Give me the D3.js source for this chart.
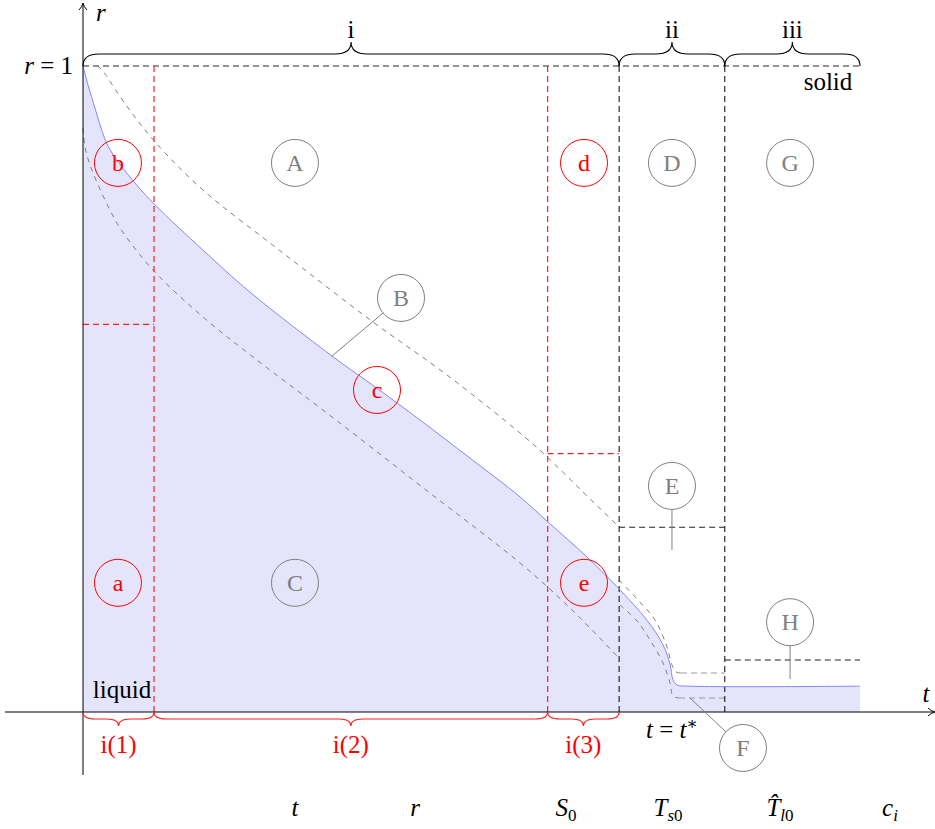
<!DOCTYPE html>
<html>
<head>
<meta charset="utf-8">
<script src="https://cdn.jsdelivr.net/npm/d3@7"></script>
<style>
  html, body { margin: 0; padding: 0; background: #fff; }
  svg text { font-family: "Liberation Serif", "DejaVu Serif", serif; }
</style>
</head>
<body>
<svg id="chart" width="935" height="829"></svg>
<script>
// Solidification front r(t) and its bounding estimates
const frontT = [0, 0.0064, 0.0154, 0.0232, 0.0322, 0.0476, 0.0682, 0.0927, 0.1544, 0.2149, 0.3205, 0.3797, 0.4337, 0.4981, 0.5624, 0.5985, 0.6486, 0.6911, 0.7259, 0.7465, 0.7555, 0.7593, 0.7645, 0.7812, 1.0];
const frontR = [1, 0.9706, 0.935, 0.904, 0.876, 0.848, 0.817, 0.785, 0.715, 0.650, 0.551, 0.500, 0.452, 0.393, 0.333, 0.294, 0.240, 0.189, 0.142, 0.104, 0.074, 0.050, 0.042, 0.040, 0.040];

// Upper bound (two pieces)
const upperAT = [0.018, 0.0232, 0.0553, 0.094, 0.1544, 0.2407, 0.269, 0.3732, 0.4685, 0.5624, 0.592, 0.6396, 0.6898];
const upperAR = [1.0, 0.9954, 0.9396, 0.8808, 0.808, 0.726, 0.6997, 0.6037, 0.5217, 0.4319, 0.4009, 0.3452, 0.2864];
const upperBT = [0.6898, 0.713, 0.7362, 0.7516, 0.758, 0.7632, 0.7696, 0.8263];
const upperBR = [0.2043, 0.1749, 0.1424, 0.1006, 0.0728, 0.0619, 0.0604, 0.0604];

// Lower bound (two pieces)
const lowerAT = [0, 0.0026, 0.0077, 0.0167, 0.0347, 0.0476, 0.0901, 0.1544, 0.2188, 0.3205, 0.4414, 0.5624, 0.6268, 0.6885];
const lowerAR = [0.904, 0.8746, 0.8514, 0.8235, 0.7771, 0.7492, 0.6842, 0.6115, 0.5495, 0.4567, 0.3437, 0.2307, 0.161, 0.0851];
const lowerBT = [0.6911, 0.713, 0.7297, 0.7465, 0.7555, 0.7593, 0.7671, 0.8263];
const lowerBR = [0.1656, 0.1409, 0.1115, 0.0759, 0.0449, 0.0248, 0.0217, 0.0217];

// Stages and sub-stages along t
const stageEdges = [0, 0.690, 0.826, 1.0];
const stageLabels = ["i", "ii", "iii"];
const subStageEdges = [0, 0.0914, 0.598, 0.690];
const subStageLabels = ["i(1)", "i(2)", "i(3)"];

// Step levels drawn within stages: [t0, t1, r]
const redStepT0 = [0, 0.598];
const redStepT1 = [0.0914, 0.690];
const redStepR = [0.600, 0.400];
const blackStepT0 = [0.690, 0.826];
const blackStepT1 = [0.826, 1.0];
const blackStepR = [0.286, 0.0805];

// Labelled regions
const redNames = ["b", "c", "d", "a", "e"];
const redT = [0.045, 0.3784, 0.6448, 0.045, 0.6448];
const redR = [0.85, 0.4985, 0.85, 0.20, 0.20];
const grayNames = ["A", "B", "C", "D", "E", "F", "G", "H"];
const grayT = [0.2728, 0.4093, 0.2728, 0.758, 0.758, 0.8494, 0.910, 0.910];
const grayR = [0.85, 0.641, 0.20, 0.85, 0.35, -0.0557, 0.85, 0.139];
// Leader lines: circle name -> point it refers to
const leaderNames = ["B", "E", "H", "F"];
const leaderT = [0.3205, 0.758, 0.910, 0.7812];
const leaderR = [0.5511, 0.2508, 0.051, 0.0217];

// Parameter labels along the bottom
const footBase = ["t", "r", "S", "T", "T\u0302", "c"];
const footSub = ["", "", "0", "s0", "l0", "i"];
const footT = [0.2728, 0.4273, 0.6216, 0.7529, 0.897, 1.0386];

const svg = d3.select("#chart");
const x = d3.scaleLinear().domain([0, 1]).range([83, 860]);
const y = d3.scaleLinear().domain([0, 1]).range([712, 66]);

const zip = (ts, rs) => ts.map((t, i) => [t, rs[i]]);
const front = zip(frontT, frontR);

const GRAY = "#808080";
const FS = 25;
const smooth = d3.curveCatmullRom.alpha(0.5);

// Liquid region under the front
svg.append("path")
  .datum(front)
  .attr("d", d3.area().x(d => x(d[0])).y0(y(0)).y1(d => y(d[1])).curve(smooth))
  .attr("fill", "#e4e4fb");

// r = 1 level
svg.append("line")
  .attr("x1", x(0)).attr("x2", x(1)).attr("y1", y(1)).attr("y2", y(1))
  .attr("stroke", "#707070").attr("stroke-width", 1.3).attr("stroke-dasharray", "6,4");

// Bounding curves
const line = d3.line().x(d => x(d[0])).y(d => y(d[1])).curve(smooth);
[[upperAT, upperAR], [upperBT.slice(0, 7), upperBR.slice(0, 7)], [lowerAT, lowerAR], [lowerBT.slice(0, 7), lowerBR.slice(0, 7)]]
  .forEach(([ts, rs]) => {
    svg.append("path").datum(zip(ts, rs)).attr("d", line)
      .attr("fill", "none").attr("stroke", GRAY).attr("stroke-width", 1).attr("stroke-dasharray", "5,5");
  });
// flat tails of the bounds
[[upperBT, upperBR], [lowerBT, lowerBR]].forEach(([ts, rs]) => {
  const n = ts.length;
  svg.append("line")
    .attr("x1", x(ts[n - 2])).attr("x2", x(ts[n - 1]))
    .attr("y1", y(rs[n - 2])).attr("y2", y(rs[n - 1]))
    .attr("stroke", "#9a9a9a").attr("stroke-width", 1.2).attr("stroke-dasharray", "6,4");
});

// Sub-stage boundaries (red) and stage boundaries (black)
subStageEdges.slice(1, 3).forEach(t => {
  svg.append("line").attr("x1", x(t)).attr("x2", x(t)).attr("y1", y(1)).attr("y2", y(0))
    .attr("stroke", "#ff2020").attr("stroke-width", 1.2).attr("stroke-dasharray", "6,4");
});
stageEdges.slice(1, 3).forEach(t => {
  svg.append("line").attr("x1", x(t)).attr("x2", x(t)).attr("y1", y(1)).attr("y2", y(0))
    .attr("stroke", "#000").attr("stroke-width", 1).attr("stroke-dasharray", "6,4");
});
redStepR.forEach((r, i) => {
  svg.append("line").attr("x1", x(redStepT0[i])).attr("x2", x(redStepT1[i])).attr("y1", y(r)).attr("y2", y(r))
    .attr("stroke", "#ff2020").attr("stroke-width", 1.2).attr("stroke-dasharray", "6,4");
});
blackStepR.forEach((r, i) => {
  svg.append("line").attr("x1", x(blackStepT0[i])).attr("x2", x(blackStepT1[i])).attr("y1", y(r)).attr("y2", y(r))
    .attr("stroke", "#222").attr("stroke-width", 1.1).attr("stroke-dasharray", "6,4");
});

// Front line
svg.append("path").datum(front).attr("d", line)
  .attr("fill", "none").attr("stroke", "#8585ff").attr("stroke-width", 1);

// Axes
svg.append("line").attr("x1", x(0)).attr("x2", x(0)).attr("y1", 775).attr("y2", 4)
  .attr("stroke", "#000").attr("stroke-width", 1);
svg.append("line").attr("x1", 5).attr("x2", 934).attr("y1", y(0)).attr("y2", y(0))
  .attr("stroke", "#000").attr("stroke-width", 1);
svg.append("path").attr("d", `M${x(0) - 4},${10} Q${x(0) - 1},${7} ${x(0)},${3} Q${x(0) + 1},${7} ${x(0) + 4},${10}`)
  .attr("fill", "none").attr("stroke", "#000").attr("stroke-width", 1);
svg.append("path").attr("d", `M${928},${y(0) - 4} Q${931},${y(0) - 1} ${935},${y(0)} Q${931},${y(0) + 1} ${928},${y(0) + 4}`)
  .attr("fill", "none").attr("stroke", "#000").attr("stroke-width", 1);

// Braces
function brace(x0, x1, yb, amp, dir, q) {
  const xm = (x0 + x1) / 2, h = yb + dir * amp / 2, tip = yb + dir * amp;
  return `M${x0},${yb} Q${x0},${h} ${x0 + q},${h} L${xm - q},${h} Q${xm},${h} ${xm},${tip} ` +
         `Q${xm},${h} ${xm + q},${h} L${x1 - q},${h} Q${x1},${h} ${x1},${yb}`;
}
stageLabels.forEach((lab, i) => {
  const x0 = x(stageEdges[i]), x1 = x(stageEdges[i + 1]);
  svg.append("path").attr("d", brace(x0, x1, y(1), 24, -1, 16))
    .attr("fill", "none").attr("stroke", "#000").attr("stroke-width", 1.1);
  svg.append("text").attr("x", (x0 + x1) / 2).attr("y", y(1) - 28).attr("text-anchor", "middle")
    .attr("font-size", FS).attr("fill", "#000").text(lab);
});
subStageLabels.forEach((lab, i) => {
  const x0 = x(subStageEdges[i]), x1 = x(subStageEdges[i + 1]);
  svg.append("path").attr("d", brace(x0, x1, y(0), 14, 1, 12))
    .attr("fill", "none").attr("stroke", "#ff2020").attr("stroke-width", 1.1);
  svg.append("text").attr("x", (x0 + x1) / 2).attr("y", y(0) + 41).attr("text-anchor", "middle")
    .attr("font-size", FS).attr("fill", "#ff0000").text(lab);
});

// Leader lines
leaderNames.forEach((nm, i) => {
  const k = grayNames.indexOf(nm);
  const cx = x(grayT[k]), cy = y(grayR[k]);
  const tx = x(leaderT[i]), ty = y(leaderR[i]);
  const dx = tx - cx, dy = ty - cy, L = Math.hypot(dx, dy);
  svg.append("line").attr("x1", cx + dx / L * 23.5).attr("y1", cy + dy / L * 23.5)
    .attr("x2", tx).attr("y2", ty).attr("stroke", GRAY).attr("stroke-width", 1);
});

// Region markers
function markers(names, ts, rs, color) {
  const g = svg.append("g").selectAll("g").data(names).join("g")
    .attr("transform", (d, i) => `translate(${x(ts[i])},${y(rs[i])})`);
  g.append("circle").attr("r", 23.5).attr("fill", "none").attr("stroke", color).attr("stroke-width", 1);
  g.append("text").attr("text-anchor", "middle").attr("dy", "0.34em")
    .attr("font-size", 24).attr("fill", color).text(d => d);
}
markers(grayNames, grayT, grayR, GRAY);
markers(redNames, redT, redR, "#ff0000");

// Text annotations
const it = "italic";
svg.append("text").attr("x", x(0) + 13).attr("y", 21).attr("font-size", FS).attr("font-style", it).text("r");
svg.append("text").attr("x", 926).attr("y", 702).attr("text-anchor", "middle").attr("font-size", FS).attr("font-style", it).text("t");
const r1 = svg.append("text").attr("x", x(0) - 10).attr("y", y(1) + 8).attr("text-anchor", "end").attr("font-size", FS);
r1.append("tspan").attr("font-style", it).text("r");
r1.append("tspan").text(" = 1");
svg.append("text").attr("x", x(0.0502)).attr("y", y(0) - 14).attr("text-anchor", "middle").attr("font-size", FS).text("liquid");
svg.append("text").attr("x", x(0.9588)).attr("y", y(1) + 24).attr("text-anchor", "middle").attr("font-size", FS).text("solid");
const ts = svg.append("text").attr("x", x(0.758)).attr("y", y(0) + 26).attr("text-anchor", "middle").attr("font-size", FS);
ts.append("tspan").attr("font-style", it).text("t");
ts.append("tspan").text(" = ");
ts.append("tspan").attr("font-style", it).text("t");
ts.append("tspan").attr("font-size", 17).attr("dy", -9).text("\u2217");

footBase.forEach((b, i) => {
  const t = svg.append("text").attr("x", x(footT[i])).attr("y", 816).attr("text-anchor", "middle").attr("font-size", FS);
  t.append("tspan").attr("font-style", it).text(b);
  if (footSub[i]) {
    const sub = footSub[i];
    const letters = sub.replace(/[0-9]/g, "");
    const digits = sub.replace(/[^0-9]/g, "");
    const s = t.append("tspan").attr("font-size", 17).attr("dy", 5);
    if (letters) s.append("tspan").attr("font-style", it).text(letters);
    if (digits) s.append("tspan").text(digits);
  }
});
</script>
</body>
</html>
